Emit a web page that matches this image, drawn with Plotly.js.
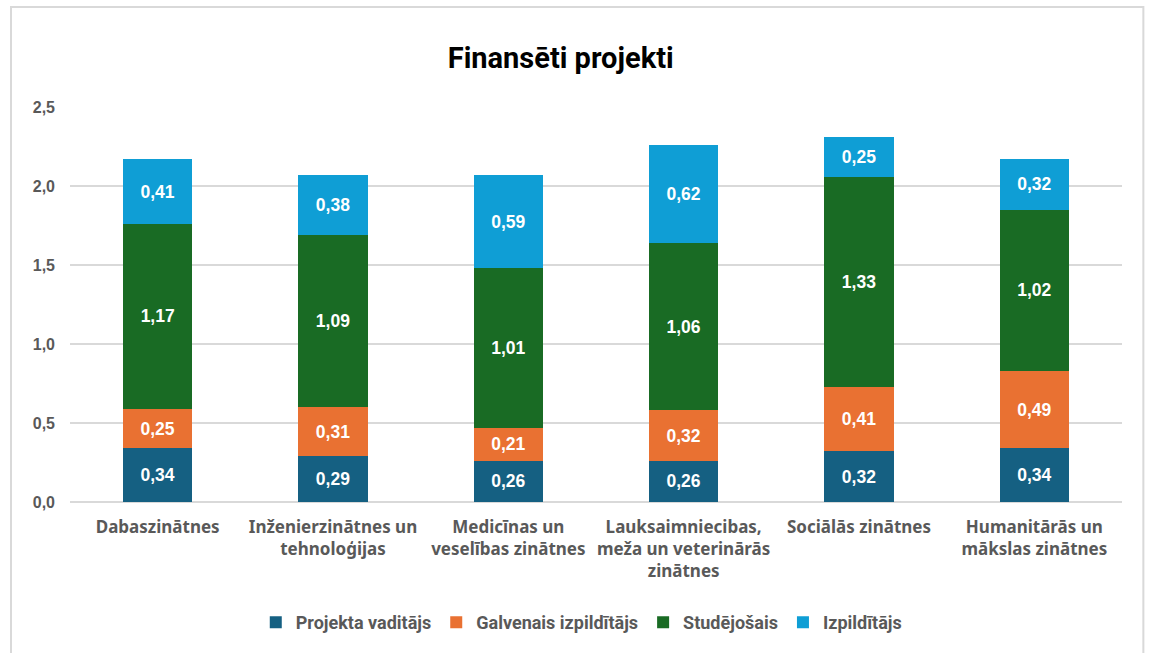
<!DOCTYPE html>
<html><head><meta charset="utf-8">
<script src="https://cdn.plot.ly/plotly-3.0.1.min.js"></script>
<style>html,body{margin:0;padding:0;background:#fff;}#chart{width:1149px;height:653px;}</style>
</head><body><div id="chart"></div>
<script>
const categories = ["Dabaszinātnes","Inženierzinātnes un<br>tehnoloģijas","Medicīnas un<br>veselības zinātnes","Lauksaimniecibas,<br>meža un veterinārās<br>zinātnes","Sociālās zinātnes","Humanitārās un<br>mākslas zinātnes"];
const seriesNames = ["Projekta vaditājs","Galvenais izpildītājs","Studējošais","Izpildītājs"];
const projektaVaditajs = [0.34,0.29,0.26,0.26,0.32,0.34];
const galvenaisIzpilditajs = [0.25,0.31,0.21,0.32,0.41,0.49];
const studejosais = [1.17,1.09,1.01,1.06,1.33,1.02];
const izpilditajs = [0.41,0.38,0.59,0.62,0.25,0.32];
const colors = ["#156082","#E97132","#196B24","#0F9ED5"];
const values = [projektaVaditajs,galvenaisIzpilditajs,studejosais,izpilditajs];

const traces = values.map((v,i)=>({
  type:'bar', name:seriesNames[i], x:categories, y:v,
  marker:{color:colors[i]},
  texttemplate:'%{y:.2f}', textposition:'inside', insidetextanchor:'middle',
  textfont:{family:'Liberation Sans, Arial, sans-serif', size:17.5, color:'#ffffff', weight:'bold'},
  hoverinfo:'skip'
}));

const layout = {
  width:1149, height:653,
  barmode:'stack', bargap:0.605,
  separators:',.',
  margin:{l:70,r:27,t:107,b:151},
  paper_bgcolor:'#ffffff', plot_bgcolor:'#ffffff',
  title:{text:'<b>Finansēti projekti</b>', x:0.488, xanchor:'center', y:0.912, yanchor:'middle',
    font:{family:'Roboto, sans-serif', size:29, color:'#000000'}},
  xaxis:{tickfont:{family:'Noto Sans, sans-serif', size:17, color:'#595959', weight:'bold'},
    showline:false, ticks:'', showgrid:false, fixedrange:true, ticklabelstandoff:13},
  yaxis:{range:[0,2.5], dtick:0.5, tickformat:'.1f',
    tickfont:{family:'Liberation Sans, Arial, sans-serif', size:16, color:'#595959', weight:'bold'},
    gridcolor:'#d9d9d9', gridwidth:1.5, zeroline:true, zerolinecolor:'#d9d9d9', zerolinewidth:1.5,
    showline:false, ticks:'', ticklabelstandoff:14, fixedrange:true},
  legend:{orientation:'h', x:0.486, xanchor:'center', y:-0.305, yanchor:'middle',
    font:{family:'Roboto, sans-serif', size:18, color:'#595959', weight:'bold'},
    traceorder:'normal', itemwidth:20, tracegroupgap:0},
  showlegend:true,
  shapes:[{type:'rect', xref:'paper', yref:'paper', x0:-0.0561, x1:1.0203, y0:-0.45, y1:1.253,
    line:{color:'#d9d9d9', width:2}, fillcolor:'rgba(0,0,0,0)', layer:'below'}]
};
Plotly.newPlot('chart', traces, layout, {displayModeBar:false, staticPlot:true});
</script></body></html>
